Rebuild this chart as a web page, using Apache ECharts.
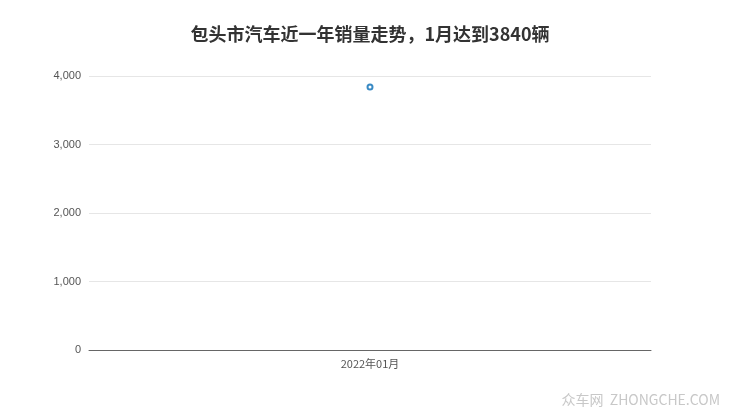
<!DOCTYPE html>
<html><head><meta charset="utf-8">
<script src="https://cdn.jsdelivr.net/npm/echarts@6/dist/echarts.min.js"></script>
<style>html,body{margin:0;padding:0;background:#fff}#c{width:740px;height:417px}</style>
</head><body><div id="c"></div>
<script>
var titleText = '包头市汽车近一年销量走势，1月达到3840辆';
var categories = ['2022年01月'];
var sales = [3840];
var yTicks = [0, 1000, 2000, 3000, 4000];

var chart = echarts.init(document.getElementById('c'));
chart.setOption({
  animation: false,
  title: {text: titleText, left: 'center', top: 20,
    textStyle: {fontSize: 18, fontWeight: 'bold', color: '#333', fontFamily: 'Noto Sans CJK SC'}},
  grid: {left: 89, right: 89, top: 76, bottom: 67},
  xAxis: {type: 'category', data: categories, boundaryGap: true,
    axisLine: {lineStyle: {color: '#666'}},
    axisTick: {alignWithLabel: true, lineStyle: {color: '#666'}},
    axisLabel: {color: '#555', fontSize: 11, margin: 8, fontFamily: 'Noto Sans CJK SC'}},
  yAxis: {type: 'value', min: yTicks[0], max: yTicks[yTicks.length-1], interval: 1000,
    axisLine: {show: false}, axisTick: {show: false},
    axisLabel: {color: '#555', fontSize: 11, margin: 8,
      formatter: function(v){return v.toLocaleString('en-US');}},
    splitLine: {lineStyle: {color: '#e6e6e6'}}},
  graphic: [{type: 'text', right: 20, bottom: 10,
    style: {text: '众车网  ZHONGCHE.COM', fill: '#c8c8c8', fontSize: 14, fontFamily: 'Noto Sans CJK SC'}}],
  series: [{type: 'line', data: sales, symbol: 'emptyCircle', symbolSize: 5,
    itemStyle: {color: '#3a8ac4', borderWidth: 2}, lineStyle: {color: '#3a8ac4'}}]
});
</script></body></html>
